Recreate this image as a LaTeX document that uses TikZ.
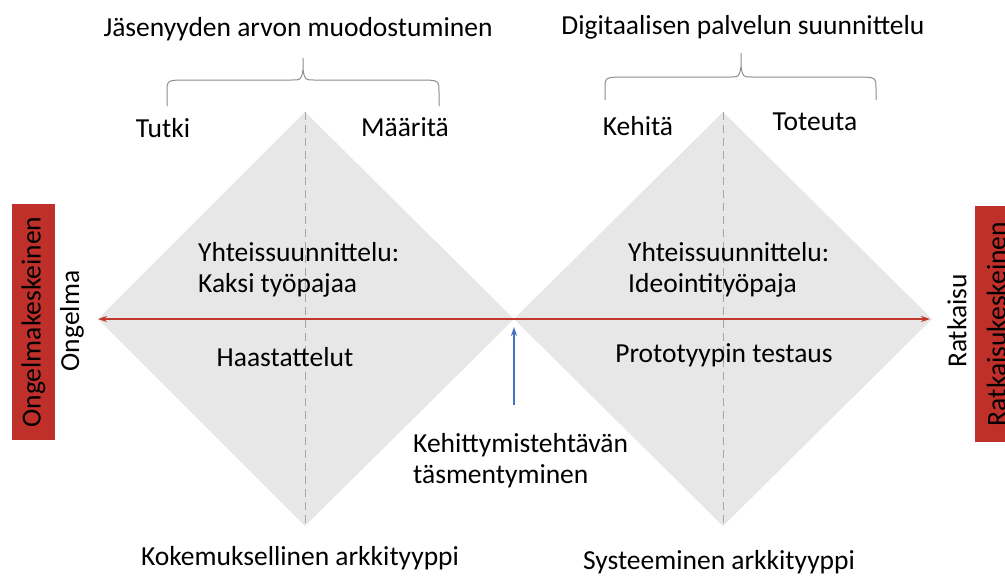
\documentclass[tikz,border=0pt]{standalone}
\usepackage{fontspec}
\setmainfont{Carlito}
\usetikzlibrary{arrows.meta}
\definecolor{diamondgray}{HTML}{E7E7E7}
\definecolor{boxred}{HTML}{C0302B}
\definecolor{axisred}{HTML}{C0392B}
\definecolor{arrowblue}{HTML}{4472C4}
\definecolor{bracegray}{HTML}{8C8C8C}
\tikzset{
  lbl/.style={inner sep=0pt, font=\fontsize{27.5}{31}\selectfont, text=black},
  sidebox/.style={fill=boxred, minimum width=43pt, minimum height=236pt, inner sep=0pt},
  midline/.style={draw=black!35, line width=1pt, dash pattern=on 8pt off 5pt},
  bracestroke/.style={draw=bracegray, line width=1pt},
}
\begin{document}
\begin{tikzpicture}[x=1pt,y=-1pt]
\useasboundingbox (0,0) rectangle (1005,576);
\clip (0,0) rectangle (1005,576);

% the two diamonds
\fill[diamondgray] (305,112) -- (514,319) -- (305,526) -- (98,319) -- cycle;
\fill[diamondgray] (723,112) -- (932,319) -- (723,526) -- (514,319) -- cycle;
\draw[midline] (305,112) -- (305,526);
\draw[midline] (723,112) -- (723,526);

% braces above the diamonds
\draw[bracestroke] (167,106) -- (167,92) .. controls (167,81) .. (178,80) -- (292,80)
  .. controls (301,80) .. (303,70) -- (303,58);
\draw[bracestroke] (303,70) .. controls (305,80) .. (314,80) -- (428,80)
  .. controls (439,81) .. (439,92) -- (439,106);
\draw[bracestroke] (605,100) -- (605,89) .. controls (605,78) .. (616,77) -- (730,77)
  .. controls (739,77) .. (741,67) -- (741,53);
\draw[bracestroke] (741,67) .. controls (743,77) .. (752,77) -- (865,77)
  .. controls (876,78) .. (876,89) -- (876,100);

% headings
\node[lbl] (t1) at (298,29) {Jäsenyyden arvon muodostuminen};
\node[lbl] (t2) at (743,27) {Digitaalisen palvelun suunnittelu};
\node[lbl] (tutki) at (163,128) {Tutki};
\node[lbl] (maarita) at (405,127) {Määritä};
\node[lbl] (kehita) at (638,126) {Kehitä};
\node[lbl] (toteuta) at (815,122) {Toteuta};

% side boxes
\node[sidebox] (lbox) at (33.5,322) {};
\node[lbl, rotate=90] at (lbox) {Ongelmakeskeinen};
\node[sidebox] (rbox) at (996.5,324) {};
\node[lbl, rotate=90] at (rbox) {Ratkaisukeskeinen};
\node[lbl, rotate=90] (ongelma) at (72,321) {Ongelma};
\node[lbl, rotate=90] (ratkaisu) at (957,321) {Ratkaisu};

% texts inside the diamonds
\node[lbl, align=left, anchor=west] (y1) at (198,270) {Yhteissuunnittelu:\\Kaksi työpajaa};
\node[lbl] (haast) at (285,357) {Haastattelut};
\node[lbl, align=left, anchor=west] (y2) at (628,270) {Yhteissuunnittelu:\\Ideointityöpaja};
\node[lbl] (proto) at (724,355) {Prototyypin testaus};

% convergence point
\node[lbl, align=left, anchor=west] (kehit) at (413,461) {Kehittymistehtävän\\täsmentyminen};
\node[lbl] (arch1) at (300,558) {Kokemuksellinen arkkityyppi};
\node[lbl] (arch2) at (719,562) {Systeeminen arkkityyppi};

% axis and pointer
\coordinate (axL) at (98,319);
\coordinate (axR) at (930,319);
\draw[axisred, line width=1.2pt, {Stealth[length=9pt,width=6pt]}-{Stealth[length=9pt,width=6pt]}] (axL) -- (axR);
\coordinate (pfrom) at (514,405);
\coordinate (pto) at (514,327);
\draw[arrowblue, line width=1.2pt, -{Stealth[length=9pt,width=6pt]}] (pfrom) -- (pto);
\end{tikzpicture}
\end{document}
